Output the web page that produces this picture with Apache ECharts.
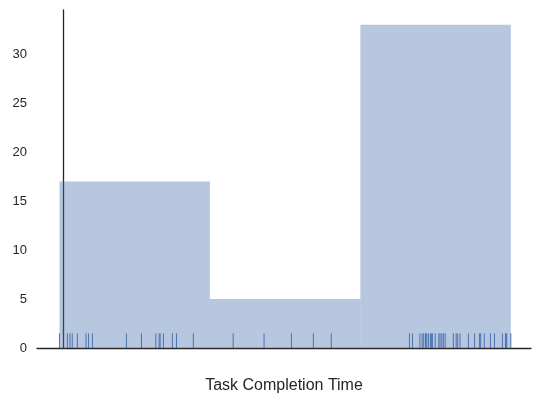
<!DOCTYPE html>
<html>
<head>
<meta charset="utf-8">
<script src="https://cdn.jsdelivr.net/npm/echarts@6/dist/echarts.min.js"></script>
<style>html,body{margin:0;background:#fff}#chart{width:542px;height:405px}</style>
</head>
<body>
<div id="chart"></div>
<script>
// task completion times
const times = [-14, 17, 27, 36, 56, 90, 100, 115, 248, 307, 363, 376, 380, 393, 428, 444, 510,
  666, 787, 894, 980, 1050,
  1356, 1368, 1397, 1406, 1412, 1419, 1424, 1430, 1438, 1442, 1446, 1457, 1471, 1476, 1483, 1489, 1496,
  1528, 1539, 1545, 1554, 1587, 1611, 1630, 1635, 1649, 1673, 1689, 1720, 1732, 1734, 1737, 1753];
const binCount = 3;
const xTicks = [0, 250, 500, 750, 1000, 1250, 1500, 1750];
const yTicks = [0, 5, 10, 15, 20, 25, 30];

const lo = Math.min(...times), hi = Math.max(...times);
const w = (hi - lo) / binCount;
const bins = [];
for (let i = 0; i < binCount; i++) bins.push([lo + i * w, lo + (i + 1) * w, 0]);
for (const t of times) bins[Math.min(binCount - 1, Math.floor((t - lo) / w))][2]++;

const chart = echarts.init(document.getElementById('chart'));
const font = 'Liberation Sans, Arial, sans-serif';
chart.setOption({
  animation: false,
  grid: { left: 37, right: 11, top: 10, bottom: 57 },
  xAxis: {
    type: 'value', min: -102, max: 1832, interval: 250,
    name: 'Task Completion Time', nameLocation: 'middle', nameGap: 30,
    nameTextStyle: { fontFamily: font, fontSize: 16, color: '#262626' },
    axisLine: { lineStyle: { color: '#262626', width: 1.3 } },
    axisTick: { show: false }, splitLine: { show: false },
    axisLabel: { fontFamily: font, fontSize: 13, color: '#262626', margin: 10,
      formatter: v => xTicks.includes(v) ? String(v) : '' },
    showMinLabel: false, showMaxLabel: false
  },
  yAxis: {
    type: 'value', min: 0, max: 34.5, interval: 5,
    axisLine: { show: true, lineStyle: { color: '#262626', width: 1.3 } },
    axisTick: { show: false }, splitLine: { show: false },
    axisLabel: { fontFamily: font, fontSize: 13, color: '#262626', margin: 10,
      formatter: v => yTicks.includes(v) ? String(v) : '' }
  },
  series: [{
    type: 'custom',
    data: bins,
    renderItem: (params, api) => {
      const p0 = api.coord([api.value(0), api.value(2)]);
      const p1 = api.coord([api.value(1), 0]);
      return { type: 'rect', shape: { x: p0[0], y: p0[1], width: p1[0] - p0[0], height: p1[1] - p0[1] },
        style: { fill: 'rgba(76,114,176,0.4)' } };
    }
  }, {
    type: 'custom',
    data: times.map(t => [t]),
    renderItem: (params, api) => {
      const a = api.coord([api.value(0), 0]);
      const b = api.coord([api.value(0), 1.5]);
      return { type: 'line', shape: { x1: a[0], y1: a[1], x2: b[0], y2: b[1] },
        style: { stroke: '#4c72b0', lineWidth: 1 } };
    }
  }]
});
</script>
</body>
</html>
